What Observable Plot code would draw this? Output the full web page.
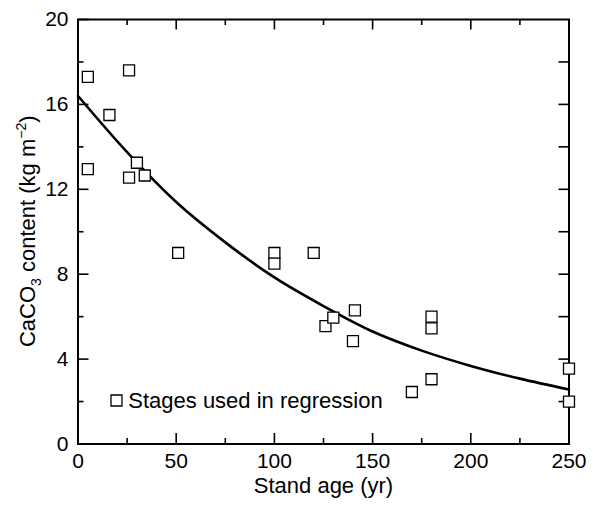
<!DOCTYPE html>
<html>
<head>
<meta charset="utf-8">
<script src="https://cdn.jsdelivr.net/npm/d3@7"></script>
<script src="https://cdn.jsdelivr.net/npm/@observablehq/plot@0.6"></script>
<style>
  html, body { margin: 0; padding: 0; background: #fff; }
  #chart svg { display: block; }
</style>
</head>
<body>
<div id="chart"></div>
<script>
// Observed stages: stand age (yr) and CaCO3 content (kg m^-2)
const standAge = [5, 26, 16, 5, 30, 26, 34, 51, 100, 100, 120, 126, 130, 141, 140, 180, 180, 180, 170, 250, 250];
const caco3    = [17.3, 17.6, 15.5, 12.95, 13.25, 12.55, 12.65, 9.0, 9.0, 8.5, 9.0, 5.55, 5.95, 6.3, 4.85, 6.0, 5.45, 3.05, 2.45, 3.55, 2.0];

// Regression curve, values
const curveAge   = [0, 25, 50, 75, 100, 125, 150, 175, 200, 225, 250];
const curveValue = [16.4, 13.75, 11.4, 9.5, 7.85, 6.5, 5.3, 4.4, 3.68, 3.08, 2.57];

// Axis ticks
const xMajor = [0, 50, 100, 150, 200, 250];
const xMinor = [25, 75, 125, 175, 225];
const yMajor = [0, 4, 8, 12, 16, 20];
const yMinor = [2, 6, 10, 14, 18];
const yRight = [2, 4, 6, 8, 10, 12, 14, 16, 18];

const legendText = "Stages used in regression";
const xLabel = "Stand age (yr)";

const points = standAge.map((a, i) => ({age: a, value: caco3[i]}));
const curve = curveAge.map((a, i) => ({age: a, value: curveValue[i]}));

const W = 593, H = 506;
const mT = 19, mB = 62.5, mL = 77.5, mR = 24.5;
const innerH = H - mT - mB, innerW = W - mL - mR;
const font = "'Liberation Sans', Arial, Helvetica, sans-serif";

const chart = Plot.plot({
  width: W,
  height: H,
  marginTop: mT,
  marginBottom: mB,
  marginLeft: mL,
  marginRight: mR,
  style: {fontFamily: font, color: "#000", background: "#fff"},
  x: {domain: [0, 250]},
  y: {domain: [0, 20]},
  marks: [
    Plot.axisX(xMajor, {tickSize: 0, tickPadding: 9.5, fontSize: 21, label: null}),
    Plot.axisY(yMajor, {tickSize: 0, tickPadding: 9.5, fontSize: 21, label: null}),
    // inward ticks, bottom
    Plot.tickX(xMajor, {x: d => d, insetTop: innerH - 10.5, strokeWidth: 1.6}),
    Plot.tickX(xMinor, {x: d => d, insetTop: innerH - 5.5, strokeWidth: 1.6}),
    // inward ticks, top
    Plot.tickX(xMajor, {x: d => d, insetBottom: innerH - 10.5, strokeWidth: 1.6}),
    Plot.tickX(xMinor, {x: d => d, insetBottom: innerH - 6, strokeWidth: 1.6}),
    // inward ticks, left
    Plot.tickY(yMajor, {y: d => d, insetRight: innerW - 11, strokeWidth: 1.6}),
    Plot.tickY(yMinor, {y: d => d, insetRight: innerW - 6, strokeWidth: 1.6}),
    // inward ticks, right
    Plot.tickY(yRight, {y: d => d, insetLeft: innerW - 10, strokeWidth: 1.6}),
    Plot.frame({stroke: "#000", strokeWidth: 2}),
    Plot.line(curve, {x: "age", y: "value", curve: "monotone-x", stroke: "#000", strokeWidth: 2.6}),
    Plot.dot(points, {x: "age", y: "value", symbol: "square", r: 6.2, stroke: "#000", fill: "#fff", strokeWidth: 1.3}),
    // legend
    Plot.dot([legendText], {x: 19.6, y: 2.05, symbol: "square", r: 6.2, stroke: "#000", fill: "#fff", strokeWidth: 1.3}),
    Plot.text([legendText], {x: 25.6, y: 2.05, text: d => d, textAnchor: "start", fontSize: 22, fill: "#000"}),
    // x axis title
    Plot.text([xLabel], {frameAnchor: "bottom", dy: 48.5, text: d => d, fontSize: 22, fill: "#000"})
  ]
});

// y axis title with subscript and superscript
const svg = d3.select(chart);
const t = svg.append("text")
  .attr("transform", `translate(35,${mT + innerH / 2}) rotate(-90)`)
  .attr("text-anchor", "middle")
  .attr("font-family", font)
  .attr("font-size", 22)
  .attr("fill", "#000");
t.append("tspan").text("CaCO");
t.append("tspan").attr("font-size", 14).attr("dy", 6).text("3");
t.append("tspan").attr("dy", -6).text(" content (kg m");
t.append("tspan").attr("font-size", 14).attr("dy", -9).text("\u22122");
t.append("tspan").attr("dy", 9).text(")");

document.getElementById("chart").appendChild(chart);
</script>
</body>
</html>
